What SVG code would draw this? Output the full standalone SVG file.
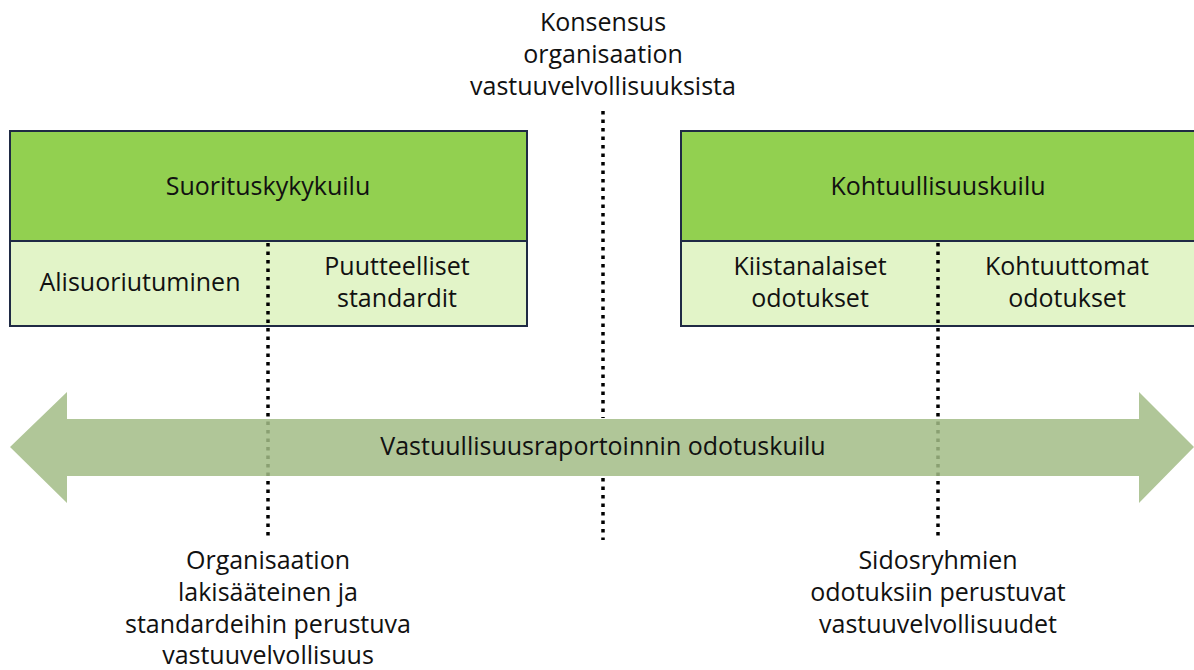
<svg xmlns="http://www.w3.org/2000/svg" width="1194" height="670" viewBox="0 0 1194 670">
<style>
text{font-family:"Open Sans","Liberation Sans",sans-serif;font-size:25px;fill:#111;text-anchor:middle}
.hdr{fill:#92D050;stroke:#1F2A44;stroke-width:2}
.sub{fill:#E2F4C8;stroke:#1F2A44;stroke-width:2}
.dot{stroke:#000;stroke-width:3.5;stroke-dasharray:3.5 5;fill:none}
</style>
<rect width="1194" height="670" fill="#fff"/>
<g id="left-box">
<rect class="hdr" x="10" y="131" width="517" height="110"/>
<rect class="sub" x="10" y="241" width="517" height="85"/>
<text x="268" y="195">Suorituskykykuilu</text>
<text x="140" y="291">Alisuoriutuminen</text>
<text x="397" y="275">Puutteelliset</text>
<text x="397" y="307">standardit</text>
</g>
<g id="right-box">
<rect class="hdr" x="681" y="131" width="520" height="110"/>
<rect class="sub" x="681" y="241" width="520" height="85"/>
<text x="938" y="195">Kohtuullisuuskuilu</text>
<text x="810" y="275">Kiistanalaiset</text>
<text x="810" y="307">odotukset</text>
<text x="1067" y="275">Kohtuuttomat</text>
<text x="1067" y="307">odotukset</text>
</g>
<g id="connectors">
<line class="dot" x1="268" y1="243" x2="268" y2="536"/>
<line class="dot" x1="938" y1="243" x2="938" y2="536"/>
<line class="dot" x1="603" y1="111" x2="603" y2="418"/>
<line class="dot" x1="603" y1="478" x2="603" y2="540"/>
</g>
<g id="arrow">
<polygon points="10,447 67,392 67,419 1139,419 1139,392 1194,447 1139,503 1139,476 67,476 67,503" fill="#A2BC86" fill-opacity="0.85"/>
<text x="603" y="455">Vastuullisuusraportoinnin odotuskuilu</text>
</g>
<g id="top-label">
<text x="603" y="31">Konsensus</text>
<text x="603" y="63">organisaation</text>
<text x="603" y="95">vastuuvelvollisuuksista</text>
</g>
<g id="bottom-left-label">
<text x="268" y="569">Organisaation</text>
<text x="268" y="601">lakisääteinen ja</text>
<text x="268" y="633">standardeihin perustuva</text>
<text x="268" y="664">vastuuvelvollisuus</text>
</g>
<g id="bottom-right-label">
<text x="938" y="569">Sidosryhmien</text>
<text x="938" y="601">odotuksiin perustuvat</text>
<text x="938" y="633">vastuuvelvollisuudet</text>
</g>
</svg>
